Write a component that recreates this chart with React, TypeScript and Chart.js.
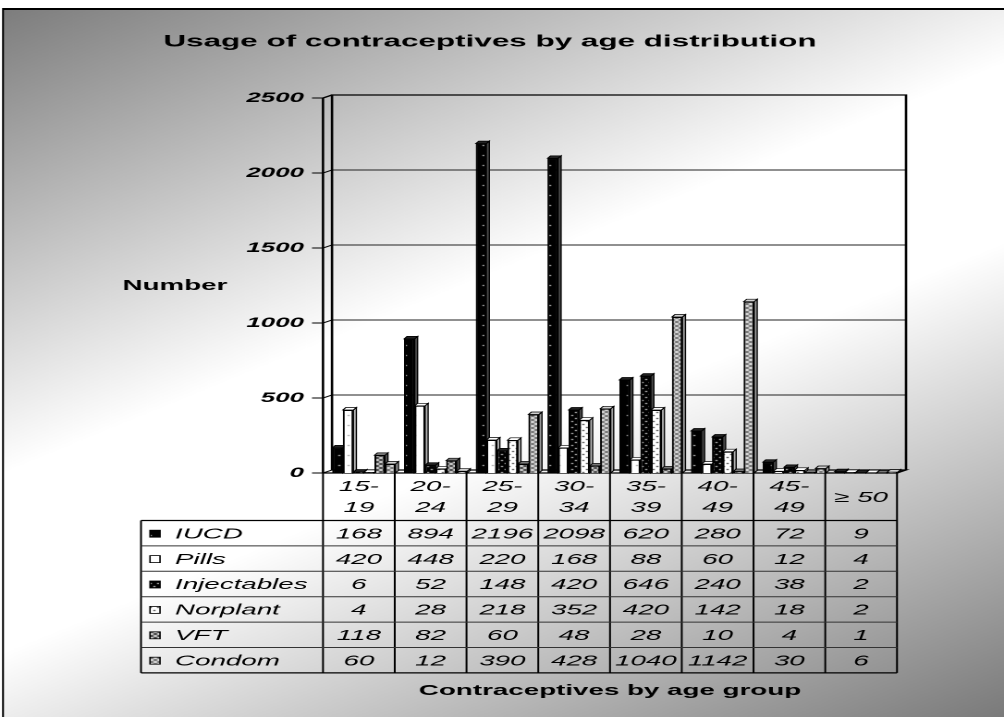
import { useEffect, useRef } from "react";
import { Chart, registerables } from "chart.js";

Chart.register(...registerables);

// ---------------- data ----------------
const categories = ["15-19", "20-24", "25-29", "30-34", "35-39", "40-49", "45-49", "≥ 50"];
const seriesNames = ["IUCD", "Pills", "Injectables", "Norplant", "VFT", "Condom"];
const iucd = [168, 894, 2196, 2098, 620, 280, 72, 9];
const pills = [420, 448, 220, 168, 88, 60, 12, 4];
const injectables = [6, 52, 148, 420, 646, 240, 38, 2];
const norplant = [4, 28, 218, 352, 420, 142, 18, 2];
const vft = [118, 82, 60, 48, 28, 10, 4, 1];
const condom = [60, 12, 390, 428, 1040, 1142, 30, 6];
const seriesValues = [iucd, pills, injectables, norplant, vft, condom];
const yMin = 0;
const yMax = 2500;
const yStep = 500;
const chartTitle = "Usage of contraceptives by age distribution";
const yTitle = "Number";
const xTitle = "Contraceptives by age group";

// ---------------- layout (the reference is stretched horizontally) ----------------
const PAGE_W = 1004;
const PAGE_H = 717;
const CANVAS_W = 543;
const SX = PAGE_W / CANVAS_W;
const px = (v: number) => v / SX;
const FONT = "'Liberation Sans', Arial, Helvetica, sans-serif";

const AREA_L = px(328);
const AREA_R = px(902);
const AREA_T = 98;
const AREA_B = 473;
const FRONT_DX = px(5);
const BACK_DX = px(4);
const BACK_DY = 3;
const BAR_DX = px(3);
const BAR_DY = 2.5;
const ROW_TOP = 520.5;
const ROW_H = 25.4;

type PatSpec = { w: number; h: number; bg: string; fg: string; dots: number[][]; side: string; top: string };
const cross = [[0, 0], [1, 1], [2, 2], [3, 3], [3, 0], [2, 1], [1, 2], [0, 3]];
const patSpecs: PatSpec[] = [
  { w: 6, h: 10, bg: "#000000", fg: "#ffffff", dots: [[3, 5]], side: "#4a4a4a", top: "#222222" },
  { w: 6, h: 10, bg: "#ffffff", fg: "#8a8a8a", dots: [[2, 5]], side: "#b8b8b8", top: "#ffffff" },
  { w: 4, h: 6, bg: "#000000", fg: "#ffffff", dots: [[1, 1], [3, 4]], side: "#4a4a4a", top: "#222222" },
  { w: 4, h: 6, bg: "#ffffff", fg: "#000000", dots: [[1, 1], [3, 4]], side: "#b8b8b8", top: "#ffffff" },
  { w: 4, h: 4, bg: "#3c3c3c", fg: "#d8d8d8", dots: cross, side: "#555555", top: "#777777" },
  { w: 4, h: 4, bg: "#e2e2e2", fg: "#6a6a6a", dots: cross, side: "#a0a0a0", top: "#d0d0d0" },
];

function makePattern(ctx: CanvasRenderingContext2D, s: PatSpec): CanvasPattern | string {
  const c = document.createElement("canvas");
  c.width = s.w;
  c.height = s.h;
  const g = c.getContext("2d");
  if (!g) return s.bg;
  g.fillStyle = s.bg;
  g.fillRect(0, 0, s.w, s.h);
  g.fillStyle = s.fg;
  s.dots.forEach(([x, y]) => g.fillRect(x, y, 1, 1));
  return ctx.createPattern(c, "repeat") || s.bg;
}

export default function App() {
  const ref = useRef<HTMLCanvasElement | null>(null);

  useEffect(() => {
    const canvas = ref.current;
    if (!canvas) return;
    const ctx0 = canvas.getContext("2d");
    if (!ctx0) return;
    const patterns = patSpecs.map((s) => makePattern(ctx0, s));

    const backgroundPlugin = {
      id: "bgPlugin",
      beforeDraw(chart: any) {
        const ctx = chart.ctx;
        const W = chart.width;
        const H = chart.height;
        ctx.save();
        ctx.fillStyle = "#ffffff";
        ctx.fillRect(0, 0, W, H);
        const grad = ctx.createLinearGradient(0, 0, W, H);
        grad.addColorStop(0, "#7a7a7a");
        grad.addColorStop(0.42, "#ffffff");
        grad.addColorStop(0.58, "#ffffff");
        grad.addColorStop(1, "#7a7a7a");
        ctx.fillStyle = grad;
        const x0 = px(3);
        ctx.fillRect(x0, 9, W - x0, H - 9);
        ctx.fillStyle = "#000";
        ctx.fillRect(x0, 8, W - x0, 2);
        ctx.fillRect(x0 - 0.5, 8, 1, H - 8);
        ctx.restore();
      },
    };

    const wallPlugin = {
      id: "wallPlugin",
      beforeDatasetsDraw(chart: any) {
        const ctx = chart.ctx;
        const ys = chart.scales.y;
        const xs = chart.scales.x;
        const n = categories.length;
        const cw = xs.getPixelForValue(1) - xs.getPixelForValue(0);
        const left = xs.getPixelForValue(0) - cw / 2;
        const right = xs.getPixelForValue(n - 1) + cw / 2;
        const fx0 = left - FRONT_DX;
        const fx1 = right - FRONT_DX;
        const bx0 = left + BACK_DX;
        const bx1 = right + BACK_DX;
        const top = ys.getPixelForValue(yMax);
        const bottom = ys.getPixelForValue(yMin);
        ctx.save();
        ctx.strokeStyle = "#222";
        ctx.lineWidth = 1;
        for (let v = yMin + yStep; v < yMax; v += yStep) {
          const y = ys.getPixelForValue(v) - BACK_DY;
          ctx.beginPath();
          ctx.moveTo(bx0, y);
          ctx.lineTo(bx1, y);
          ctx.stroke();
        }
        ctx.strokeStyle = "#000";
        ctx.lineWidth = 1.3;
        ctx.beginPath();
        ctx.moveTo(bx0, bottom - BACK_DY);
        ctx.lineTo(bx0, top - BACK_DY);
        ctx.lineTo(bx1, top - BACK_DY);
        ctx.lineTo(bx1, bottom - BACK_DY);
        ctx.stroke();
        ctx.beginPath();
        ctx.moveTo(fx0, top);
        ctx.lineTo(fx0, bottom);
        ctx.moveTo(fx0, top);
        ctx.lineTo(bx0, top - BACK_DY);
        ctx.stroke();
        ctx.lineWidth = 1;
        for (let v = yMin; v <= yMax; v += yStep) {
          const y = ys.getPixelForValue(v);
          ctx.beginPath();
          ctx.moveTo(px(312), y);
          ctx.lineTo(fx0, y);
          ctx.lineTo(bx0, y - BACK_DY);
          ctx.stroke();
        }
        ctx.lineWidth = 1.2;
        ctx.beginPath();
        ctx.moveTo(fx0, bottom);
        ctx.lineTo(fx1, bottom);
        ctx.lineTo(bx1, bottom - BACK_DY);
        ctx.lineTo(bx0, bottom - BACK_DY);
        ctx.stroke();
        ctx.restore();
      },
      afterDatasetsDraw(chart: any) {
        const ctx = chart.ctx;
        ctx.save();
        for (let d = 0; d < chart.data.datasets.length; d++) {
          const meta = chart.getDatasetMeta(d);
          const spec = patSpecs[d];
          meta.data.forEach((el: any) => {
            el.draw(ctx);
            const { x, y, base, width } = el.getProps(["x", "y", "base", "width"], true);
            const l = x - width / 2;
            const r = x + width / 2;
            ctx.lineWidth = 0.7;
            ctx.strokeStyle = "#000";
            ctx.beginPath();
            ctx.moveTo(r, y);
            ctx.lineTo(r + BAR_DX, y - BAR_DY);
            ctx.lineTo(r + BAR_DX, base - BAR_DY);
            ctx.lineTo(r, base);
            ctx.closePath();
            ctx.fillStyle = spec.side;
            ctx.fill();
            ctx.stroke();
            ctx.beginPath();
            ctx.moveTo(l, y);
            ctx.lineTo(l + BAR_DX, y - BAR_DY);
            ctx.lineTo(r + BAR_DX, y - BAR_DY);
            ctx.lineTo(r, y);
            ctx.closePath();
            ctx.fillStyle = spec.top;
            ctx.fill();
            ctx.stroke();
          });
        }
        ctx.restore();
      },
    };

    const tablePlugin = {
      id: "tablePlugin",
      afterDraw(chart: any) {
        const ctx = chart.ctx;
        const xs = chart.scales.x;
        const ys = chart.scales.y;
        const n = categories.length;
        const cw = xs.getPixelForValue(1) - xs.getPixelForValue(0);
        const colL = (i: number) => xs.getPixelForValue(0) - cw / 2 + i * cw - FRONT_DX;
        const fx0 = colL(0);
        const fx1 = colL(n);
        const bottom = ys.getPixelForValue(yMin);
        const tx0 = px(141);
        const rows = seriesNames.length;
        const tableBottom = ROW_TOP + rows * ROW_H;
        ctx.save();
        ctx.strokeStyle = "#000";
        ctx.lineWidth = 1;
        for (let i = 0; i <= n; i++) {
          const x = colL(i);
          ctx.beginPath();
          ctx.moveTo(x, bottom);
          ctx.lineTo(x, tableBottom);
          ctx.stroke();
        }
        ctx.beginPath();
        ctx.moveTo(tx0, ROW_TOP);
        ctx.lineTo(tx0, tableBottom);
        ctx.stroke();
        for (let r = 0; r <= rows; r++) {
          const y = ROW_TOP + r * ROW_H;
          ctx.strokeStyle = r === 0 || r === rows ? "#000" : "#333";
          ctx.lineWidth = r === 0 || r === rows ? 1.3 : 1;
          ctx.beginPath();
          ctx.moveTo(tx0, y);
          ctx.lineTo(fx1, y);
          ctx.stroke();
        }
        ctx.fillStyle = "#000";
        ctx.font = `italic 15px ${FONT}`;
        ctx.textAlign = "center";
        ctx.textBaseline = "middle";
        categories.forEach((c, i) => {
          const cx = colL(i) + cw / 2;
          const k = c.indexOf("-");
          const lines = k >= 0 ? [c.slice(0, k + 1), c.slice(k + 1)] : [c];
          if (lines.length === 1) {
            ctx.fillText(lines[0], cx, (bottom + ROW_TOP) / 2 + 1);
          } else {
            ctx.fillText(lines[0], cx, 487);
            ctx.fillText(lines[1], cx, 508);
          }
        });
        seriesNames.forEach((name, r) => {
          const yMid = ROW_TOP + r * ROW_H + ROW_H / 2 + 1;
          ctx.fillStyle = patterns[r];
          ctx.fillRect(px(150), yMid - 4, px(10), 7);
          ctx.strokeStyle = "#000";
          ctx.lineWidth = 0.8;
          ctx.strokeRect(px(150), yMid - 4, px(10), 7);
          ctx.fillStyle = "#000";
          ctx.textAlign = "left";
          ctx.fillText(name, px(175), yMid);
          ctx.textAlign = "center";
          seriesValues[r].forEach((v, i) => {
            ctx.fillText(String(v), colL(i) + cw / 2, yMid);
          });
        });
        ctx.font = `bold 15px ${FONT}`;
        ctx.fillText(xTitle, (fx0 + fx1) / 2, 691);
        ctx.fillText(yTitle, px(175), 286);
        ctx.font = `bold 17px ${FONT}`;
        ctx.fillText(chartTitle, px(490), 42);
        ctx.restore();
      },
    };

    const chart = new Chart(canvas, {
      type: "bar",
      data: {
        labels: categories,
        datasets: seriesNames.map((name, i) => ({
          label: name,
          data: seriesValues[i],
          backgroundColor: patterns[i] as any,
          borderColor: "#000000",
          borderWidth: 1,
          categoryPercentage: 0.88,
          barPercentage: 1.0,
        })),
      },
      options: {
        responsive: false,
        devicePixelRatio: 2,
        animation: false,
        layout: {
          padding: { left: 0, right: CANVAS_W - AREA_R, top: AREA_T, bottom: PAGE_H - AREA_B },
        },
        plugins: {
          legend: { display: false },
          title: { display: false },
          tooltip: { enabled: false },
        },
        scales: {
          x: {
            type: "category",
            display: false,
            grid: { display: false },
          },
          y: {
            min: yMin,
            max: yMax,
            ticks: {
              stepSize: yStep,
              color: "#000",
              padding: AREA_L - px(304),
              font: { family: FONT, size: 14, weight: "bold", style: "italic" },
              callback: (v: any) => String(v),
            },
            grid: { display: false, drawTicks: false },
            border: { display: false },
            afterFit: (s: any) => {
              s.width = AREA_L;
            },
          },
        },
      },
      plugins: [backgroundPlugin, wallPlugin, tablePlugin],
    });

    return () => chart.destroy();
  }, []);

  return (
    <div style={{ position: "absolute", left: 0, top: 0, width: PAGE_W, height: PAGE_H, overflow: "hidden" }}>
      <canvas
        ref={ref}
        width={CANVAS_W}
        height={PAGE_H}
        style={{ width: `${PAGE_W}px`, height: `${PAGE_H}px`, display: "block" }}
      />
    </div>
  );
}
